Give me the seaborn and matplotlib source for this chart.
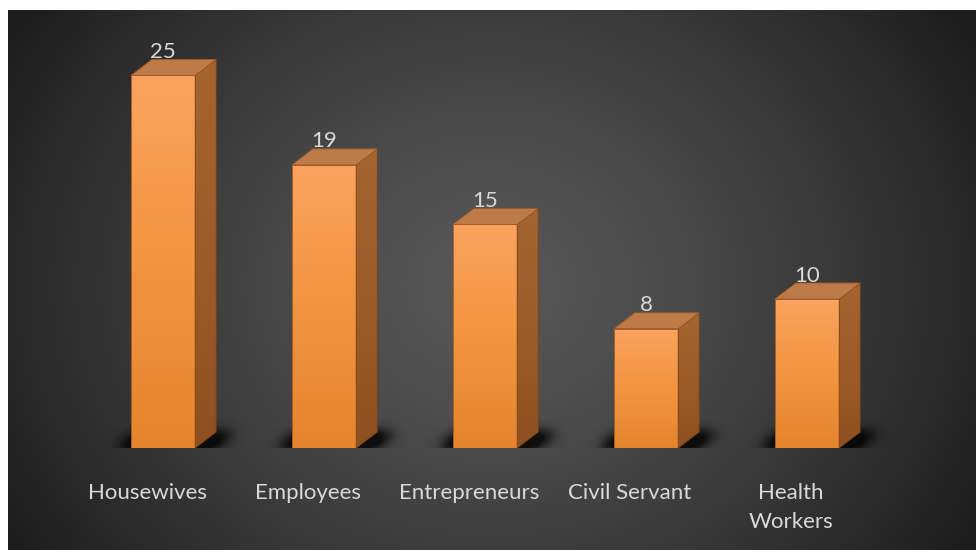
import numpy as np
import matplotlib
matplotlib.use("Agg")
import matplotlib.pyplot as plt
from matplotlib.patches import Polygon
from matplotlib.colors import LinearSegmentedColormap
import seaborn as sns

categories = ["Housewives", "Employees", "Entrepreneurs", "Civil Servant", "Health\nWorkers"]
values = [25, 19, 15, 8, 10]

sns.set_theme(style="white")
plt.rcParams["font.family"] = ["Lato", "DejaVu Sans"]

W, H = 976, 550
fig = plt.figure(figsize=(W / 100, H / 100), dpi=100)
fig.patch.set_facecolor("white")

# --- dark radial backdrop ---------------------------------------------------
bg = fig.add_axes([0, 0, 1, 1])
bg.set_xlim(0, W)
bg.set_ylim(H, 0)
bg.axis("off")
px0, py0 = 8, 10
gx, gy = np.meshgrid(np.linspace(px0, W, 500), np.linspace(py0, H, 300))
cx, cy = 490, 285
r = np.hypot(gx - cx, (gy - cy) * 1.15) / 560.0
r = np.clip(r, 0, 1)
inner, outer = 0.345, 0.115
shade = outer + (inner - outer) * (1 - r ** 1.3)
bg.imshow(np.dstack([shade] * 3), extent=[px0, W, H, py0], aspect="auto",
          interpolation="bilinear", zorder=0)

# --- bar axes ----------------------------------------------------------------
base_y = 448           # baseline row
unit = 14.9            # pixels per value unit
step = 161             # pixels between category centres
first = 163            # centre of the first bar
ax = fig.add_axes([px0 / W, (H - base_y) / H, (W - px0) / W, (base_y - py0) / H])
ax.patch.set_alpha(0)

sns.barplot(x=categories, y=values, width=0.4, color="#F39440", ax=ax,
            saturation=1, zorder=3)

xlim = (-(first - px0) / step, (W - first) / step)
ylim = (0, (base_y - py0) / unit)

dx = 21 / step   # depth offset, horizontal
dy = 16 / unit   # depth offset, vertical

front_cmap = LinearSegmentedColormap.from_list("front", ["#E5842D", "#F29540", "#FBA35F"])
side_cmap = LinearSegmentedColormap.from_list("side", ["#8E5020", "#9C5C2A", "#A4652F"])
vgrad = np.linspace(0, 1, 256).reshape(-1, 1)


def blur(a, s):
    k = np.arange(-3 * s, 3 * s + 1)
    g = np.exp(-0.5 * (k / s) ** 2)
    g /= g.sum()
    a = np.apply_along_axis(lambda m: np.convolve(m, g, mode="same"), 0, a)
    a = np.apply_along_axis(lambda m: np.convolve(m, g, mode="same"), 1, a)
    return a


for patch in list(ax.patches):
    x0 = patch.get_x()
    w = patch.get_width()
    h = patch.get_height()
    x1 = x0 + w

    # soft cast shadow around the footprint (grid ~1 px per sample)
    sx0, sx1 = x0 - 0.35, x1 + dx + 0.4
    sy0, sy1 = -0.9, dy + 0.9
    nx = int(round((sx1 - sx0) * step))
    ny = int(round((sy1 - sy0) * unit))
    sxg, syg = np.meshgrid(np.linspace(sx0, sx1, nx), np.linspace(sy1, sy0, ny))
    t = np.clip(syg / dy, 0, 1)
    left_edge = x0 - 0.09 + t * dx
    right_edge = x1 + 0.12 + t * dx
    mask = ((syg >= -0.1) & (syg <= dy * 0.95) & (sxg >= left_edge) & (sxg <= right_edge)).astype(float)
    alpha = np.clip(blur(mask, 6) * 1.35, 0, 0.8)
    rgba = np.zeros((ny, nx, 4))
    rgba[..., 3] = alpha
    ax.imshow(rgba, extent=[sx0, sx1, sy0, sy1], aspect="auto", zorder=1,
              interpolation="bilinear")

    # front face gradient
    im = ax.imshow(vgrad, cmap=front_cmap, extent=[x0, x1, 0, h], aspect="auto",
                   origin="lower", zorder=3.1, interpolation="bilinear")
    im.set_clip_path(patch)
    patch.set_edgecolor("#9A5520")
    patch.set_linewidth(0.6)
    patch.set_facecolor("none")
    patch.set_zorder(3.2)

    # side face
    side = Polygon([(x1, 0), (x1 + dx, dy), (x1 + dx, h + dy), (x1, h)], closed=True,
                   facecolor="none", edgecolor="#7E4518", linewidth=0.6, zorder=3.2)
    ax.add_patch(side)
    ims = ax.imshow(vgrad, cmap=side_cmap, extent=[x1, x1 + dx, 0, h + dy], aspect="auto",
                    origin="lower", zorder=3.1, interpolation="bilinear")
    ims.set_clip_path(side)

    # top face
    top = Polygon([(x0, h), (x0 + dx, h + dy), (x1 + dx, h + dy), (x1, h)], closed=True,
                  facecolor="#BE7A48", edgecolor="#9A5A2A", linewidth=0.6, zorder=3.2)
    ax.add_patch(top)

    ax.text(x0 + w / 2, h + dy + 0.5, f"{h:g}", ha="center", va="center",
            color="#D9D9D9", fontsize=16, zorder=5)

ax.set_xlim(*xlim)
ax.set_ylim(*ylim)
ax.set_xticks(np.arange(len(categories)) - 16 / step)
ax.set_xticklabels(categories, color="#D9D9D9", fontsize=16, linespacing=1.55)
ax.tick_params(axis="x", length=0, pad=25.5)
ax.set_yticks([])
ax.set_xlabel("")
ax.set_ylabel("")
for s in ax.spines.values():
    s.set_visible(False)

fig.savefig("out.png", dpi=100, facecolor="white")
